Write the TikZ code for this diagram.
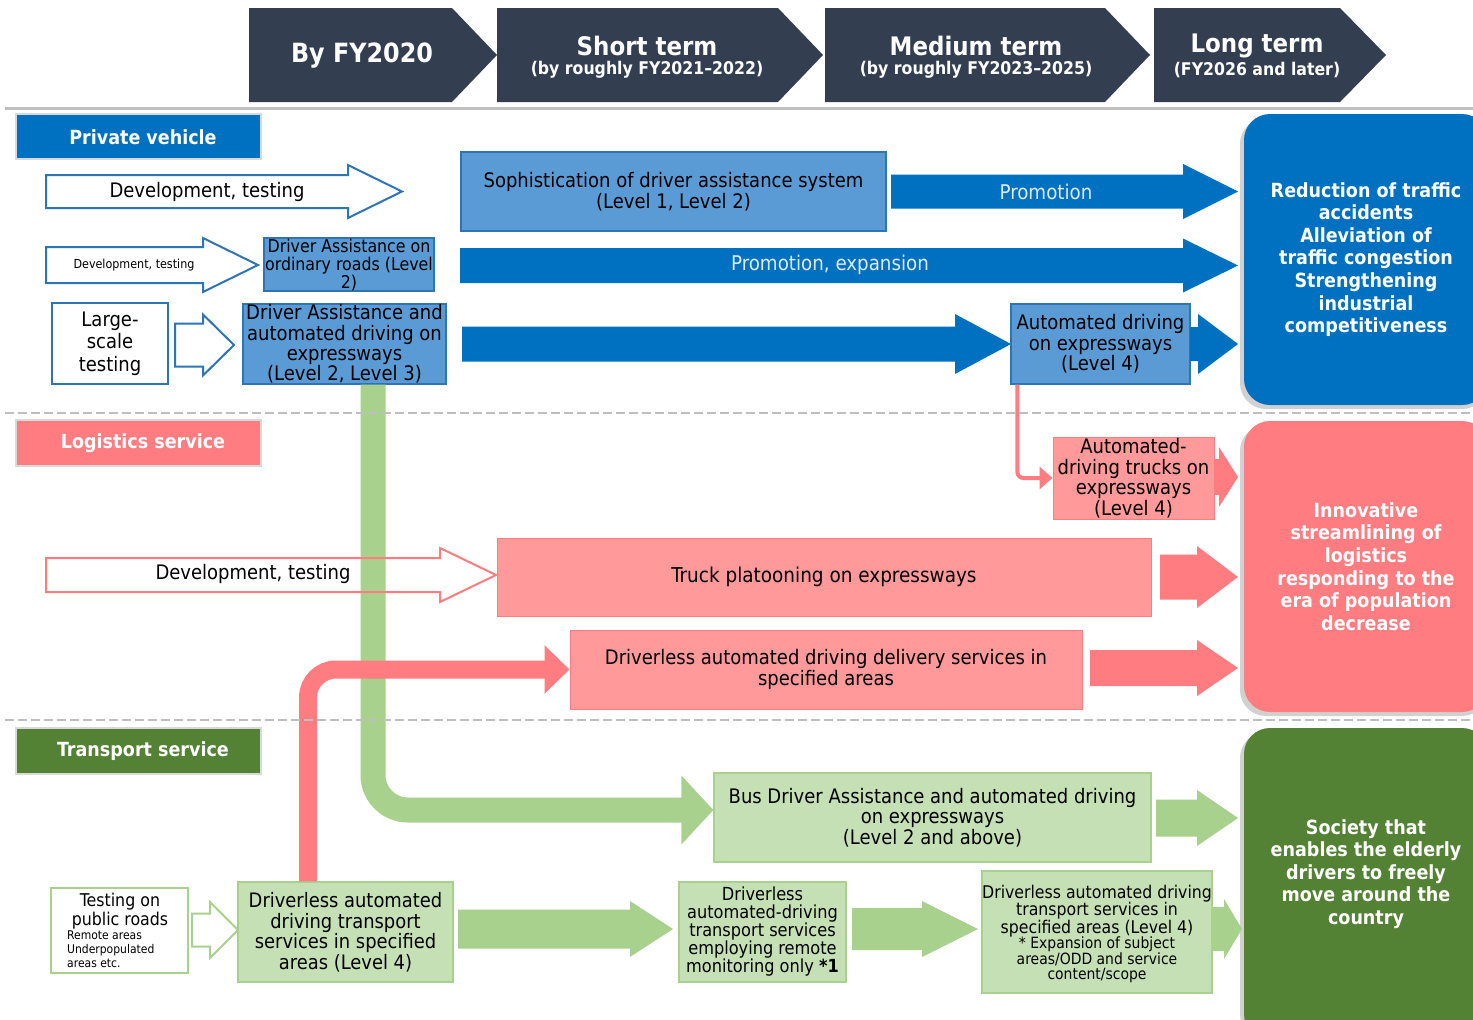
\documentclass[tikz,border=0pt]{standalone}
\usepackage{fontspec}
\setmainfont{DejaVu Sans Condensed}
\usetikzlibrary{arrows.meta}
\definecolor{hdr}{HTML}{333F50}
\definecolor{bstrong}{HTML}{0070C0}
\definecolor{blight}{HTML}{5B9BD5}
\definecolor{bborder}{HTML}{2E75B6}
\definecolor{pstrong}{HTML}{FF7C80}
\definecolor{plight}{HTML}{FF999A}
\definecolor{gstrong}{HTML}{548235}
\definecolor{garrow}{HTML}{A9D18E}
\definecolor{glight}{HTML}{C5E0B4}
\definecolor{sepgray}{HTML}{BFBFBF}
\definecolor{arrtext}{HTML}{DDEBF7}
\newcommand\fs[2]{\fontsize{#1}{#2}\selectfont}
\newcommand\barrow[7]{\path[#1] (#2,{#5-#6}) -- (#3,{#5-#6}) -- (#3,{#5-#7}) -- (#4,#5) -- (#3,{#5+#7}) -- (#3,{#5+#6}) -- (#2,{#5+#6}) -- cycle;}
\newcommand\bx[7]{\node[#1, minimum width={(#5-#3)*1pt}, minimum height={(#6-#4)*1pt}] (#2) at ({(#3+#5)/2},{(#4+#6)/2}) {#7};}
\begin{document}
\begin{tikzpicture}[x=1pt,y=-1pt,
  hdtitle/.style={text=white, font=\bfseries\fs{25.5}{28}, inner sep=0pt},
  hdsub/.style={text=white, font=\bfseries\fs{17.5}{20}, inner sep=0pt},
  catlabel/.style={fill=#1, draw=black!15, line width=2pt, inner sep=0pt},
  cattext/.style={text=white, font=\bfseries\fs{19.5}{22}, inner sep=0pt},
  bluebox/.style={fill=blight, draw=bborder, line width=1.2pt, align=center, inner sep=0pt, font=\fs{20}{20.3}},
  pinkbox/.style={fill=plight, draw=pstrong, line width=1pt, align=center, inner sep=0pt, font=\fs{20}{20.5}},
  greenbox/.style={fill=glight, draw=garrow, line width=1.2pt, align=center, inner sep=0pt, font=\fs{20}{20.5}},
  whitebox/.style={fill=white, draw=bborder, line width=2pt, align=center, inner sep=0pt, font=\fs{20}{22.5}},
  testbox/.style={fill=white, draw=garrow, line width=2pt},
  outcome/.style={fill=#1, rounded corners=26pt, text=white, align=center, font=\bfseries\fs{19.5}{22.6}, inner sep=0pt},
  outtext/.style={text=white, align=center, font=\bfseries\fs{19.5}{22.6}, inner sep=0pt},
  outB/.style={draw=bborder, fill=white, line width=2pt},
  outP/.style={draw=pstrong, line width=2pt},
  outG/.style={draw=garrow, fill=white, line width=2pt},
  arrtxt/.style={text=arrtext, font=\fs{20.3}{22}, inner sep=0pt},
  txt/.style={font=\fs{20}{22}, align=center, inner sep=0pt},
  sepdash/.style={sepgray, line width=2.5pt, dash pattern=on 9pt off 4pt}
]
\useasboundingbox (0,0) rectangle (1473,1020);
\clip (0,0) rectangle (1473,1020);
\fill[white] (0,0) rectangle (1473,1020);

% ---------- header ----------
\fill[hdr] (249,8) -- (452,8) -- (497,55) -- (452,102) -- (249,102) -- cycle;
\node[hdtitle, font=\bfseries\fs{26.5}{28}] (h1) at (362,56) {By FY2020};
\fill[hdr] (497,8) -- (778,8) -- (823,55) -- (778,102) -- (497,102) -- cycle;
\node[hdtitle] (h2) at (647,46) {Short term};
\node[hdsub] (h2s) at (647,70) {(by roughly FY2021–2022)};
\fill[hdr] (825,8) -- (1105,8) -- (1150,55) -- (1105,102) -- (825,102) -- cycle;
\node[hdtitle] (h3) at (976,46) {Medium term};
\node[hdsub] (h3s) at (976,70) {(by roughly FY2023–2025)};
\fill[hdr] (1154,8) -- (1340,8) -- (1386,55) -- (1340,102) -- (1154,102) -- cycle;
\node[hdtitle] (h4) at (1257,46) {Long term};
\node[hdsub] (h4s) at (1257,70) {(FY2026 and later)};
\draw[sepgray, line width=3pt] (5,108) -- (1473,108);

% ---------- category labels ----------
\bx{catlabel=bstrong}{catpv}{16}{114}{261}{159}{}
\node[cattext] (catpvt) at (143,137) {Private vehicle};
\bx{catlabel=pstrong}{catls}{16}{420}{261}{466}{}
\node[cattext] (catlst) at (143,443) {Logistics service};
\bx{catlabel=gstrong}{catts}{16}{728}{261}{774}{}
\node[cattext] (cattst) at (143,751) {Transport service};

% ---------- outcome boxes ----------
\fill[black!18, rounded corners=26pt] (1240,118) rectangle (1488,409);
\bx{outcome=bstrong}{goal1}{1244}{114}{1488}{405}{Reduction of traffic\\accidents\\Alleviation of\\traffic congestion\\Strengthening\\industrial\\competitiveness}
\fill[black!18, rounded corners=26pt] (1240,425) rectangle (1488,716);
\bx{outcome=pstrong}{goal2}{1244}{421}{1488}{712}{Innovative\\streamlining of\\logistics\\responding to the\\era of population\\decrease}
\fill[black!18, rounded corners=26pt] (1240,732) rectangle (1488,1040);
\bx{outcome=gstrong}{goal3}{1244}{728}{1488}{1040}{}
\node[outtext] (goal3t) at (1366,874) {Society that\\enables the elderly\\drivers to freely\\move around the\\country};

% ---------- private vehicle ----------
\barrow{outB}{46}{348}{402}{191.5}{16.5}{26.5}
\node[txt] (dev1) at (207,192) {Development, testing};
\bx{bluebox, font=\fs{20}{21}}{soph}{461}{152}{886}{231}{Sophistication of driver assistance system\\(Level 1, Level 2)}
\barrow{fill=bstrong}{891}{1183}{1238}{191.5}{17}{27.5}
\node[arrtxt] (promo) at (1046,192) {Promotion};

\barrow{outB}{46}{203}{258}{265}{18}{27}
\node[txt, font=\fs{12.4}{14}] (dev2) at (134,265) {Development, testing};
\bx{bluebox, font=\fs{17.6}{18}}{daord}{264}{238}{434}{291}{Driver Assistance on\\ordinary roads (Level\\2)}
\barrow{fill=bstrong}{460}{1183}{1238}{265.5}{17.5}{27}
\node[arrtxt] (promoexp) at (830,265) {Promotion, expansion};

\bx{whitebox}{large}{52}{303}{168}{384}{Large-\\scale\\testing}
\barrow{outB}{175}{203}{234}{345}{21.5}{30.5}
\bx{bluebox, font=\fs{20}{20.3}}{dae}{243}{304}{446}{384}{Driver Assistance and\\automated driving on\\expressways\\(Level 2, Level 3)}
\barrow{fill=bstrong}{462}{955}{1011}{344}{17.5}{30}
\bx{bluebox, font=\fs{20}{20.5}}{auto4}{1011}{304}{1190}{384}{Automated driving\\on expressways\\(Level 4)}
\barrow{fill=bstrong}{1190}{1198}{1238}{344}{17}{30}

% ---------- logistics ----------
\bx{pinkbox, font=\fs{20}{20.5}}{trucks}{1053}{437}{1214}{519}{Automated-\\driving trucks on\\expressways\\(Level 4)}
\barrow{fill=pstrong}{1214}{1219}{1238}{477}{18}{30}
\draw[line width=4pt, pstrong, rounded corners=6pt, -{Triangle[length=13pt,width=22pt]}] ([xshift=7pt]auto4.south west) |- (trucks.west);
\bx{pinkbox, font=\fs{20.5}{22}}{platoon}{497}{538}{1151}{616}{Truck platooning on expressways}
\barrow{fill=pstrong}{1160}{1197}{1238}{577}{22.5}{31}
\bx{pinkbox, font=\fs{20}{20.5}}{delivery}{570}{630}{1082}{709}{Driverless automated driving delivery services in\\specified areas}
\barrow{fill=pstrong}{1090}{1197}{1238}{668}{18}{28}

% ---------- transport ----------
\bx{greenbox, font=\fs{20}{20.5}}{bus}{714}{773}{1151}{862}{Bus Driver Assistance and automated driving\\on expressways\\(Level 2 and above)}
\barrow{fill=garrow}{1156}{1197}{1238}{818}{18.5}{28}
\bx{testbox}{testing}{51}{888}{188}{973}{}
\node[txt, font=\fs{17.6}{19}] (testhead) at (120,911) {Testing on\\public roads};
\node[font=\fs{12}{14}, align=left, anchor=north west, inner sep=0pt] (testsub) at (67,931) {Remote areas\\Underpopulated\\areas etc.};
\barrow{outG}{192}{210}{238}{930}{16.5}{28}
\bx{greenbox, font=\fs{19.9}{20.5}}{dtsa}{238}{882}{453}{982}{Driverless automated\\driving transport\\services in specified\\areas (Level 4)}
\barrow{fill=garrow}{458}{630}{673}{929}{19.5}{28}
\bx{greenbox, font=\fs{18}{18}}{remote}{679}{882}{846}{982}{Driverless\\automated-driving\\transport services\\employing remote\\monitoring only \textbf{*1}}
\barrow{fill=garrow}{852}{922}{978}{929}{21}{28}
\bx{greenbox}{expand}{982}{871}{1212}{993}{}
\node[txt, font=\fs{17.5}{17.5}] (exptop) at (1097,911) {Driverless automated driving\\transport services in\\specified areas (Level 4)};
\node[txt, font=\fs{15.5}{15.5}] (expsub) at (1097,960) {* Expansion of subject\\areas/ODD and service\\content/scope};
\barrow{fill=garrow}{1212}{1224}{1242}{929}{22}{30}

% ---------- bent connectors ----------
\draw[line width=25pt, garrow, rounded corners=35pt, -{Triangle[length=32pt,width=67pt]}] ([xshift=28.5pt]dae.south) |- ([yshift=7.5pt]bus.west);
\draw[line width=18pt, pstrong, rounded corners=28pt, -{Triangle[length=25pt,width=47pt]}] ([xshift=-37.5pt]dtsa.north) |- (delivery.west);

% pink outline development arrow (over the green bar)
\barrow{outP}{46}{440}{496}{575}{17}{27}
\node[txt] (dev3) at (253,574) {Development, testing};

% ---------- dashed separators ----------
\draw[sepdash] (5,413) -- (1473,413);
\draw[sepdash] (5,720) -- (1473,720);
\end{tikzpicture}
\end{document}
